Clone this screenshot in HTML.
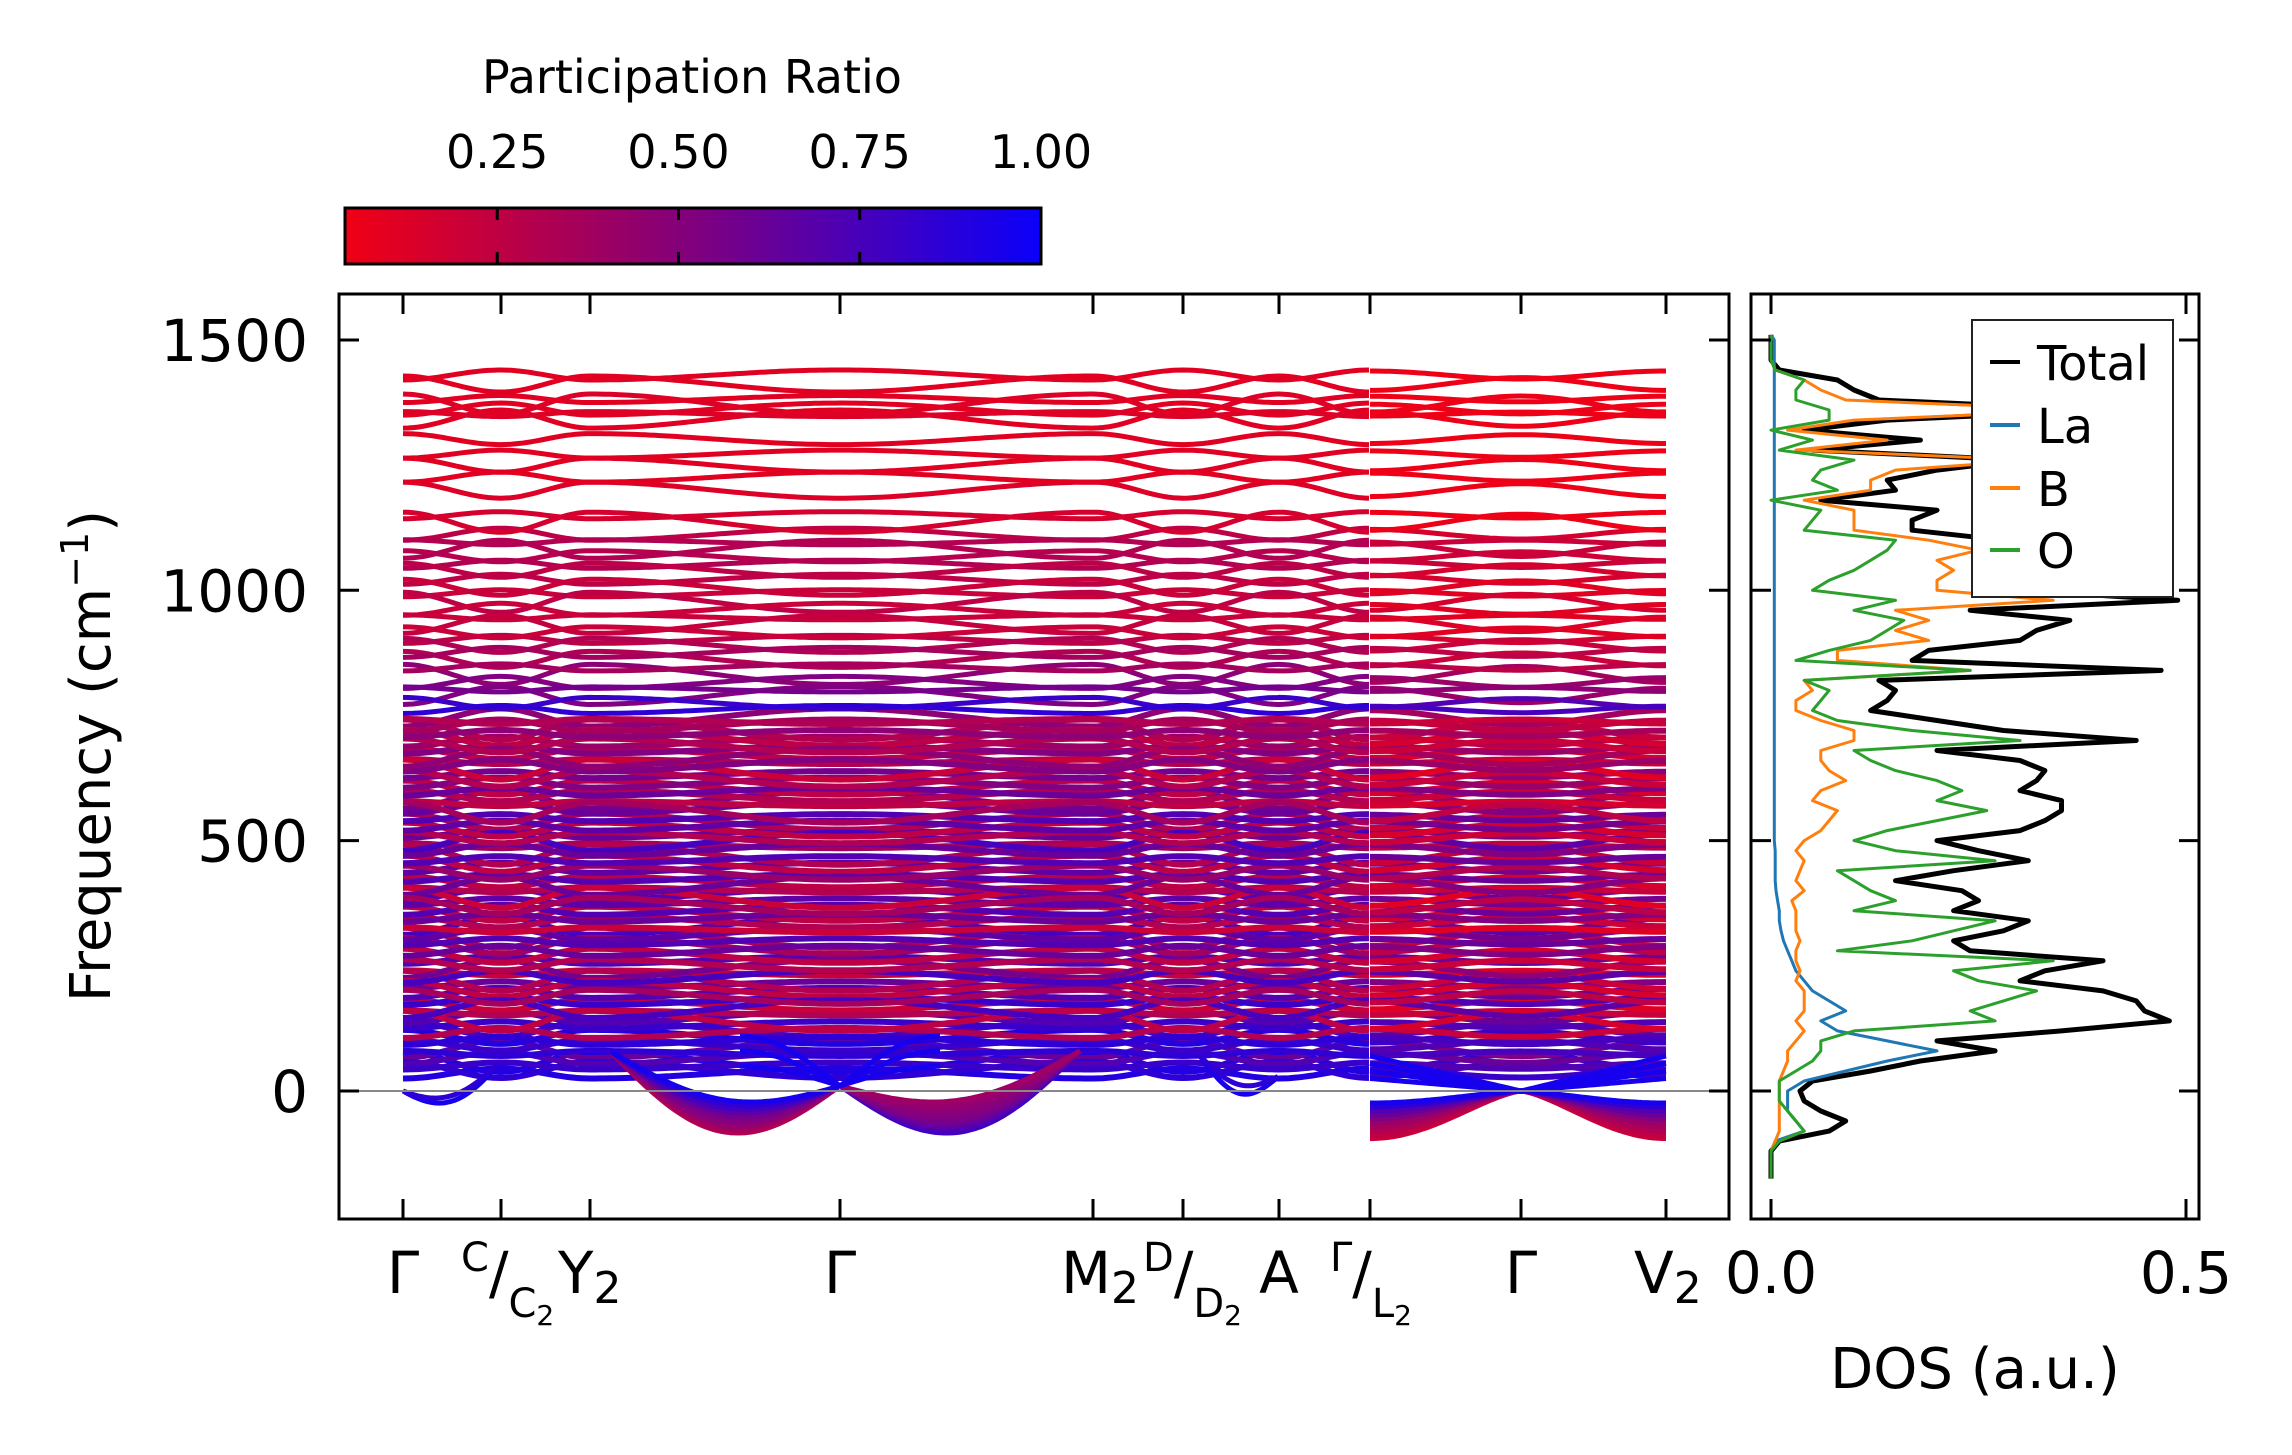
<!DOCTYPE html>
<html><head><meta charset="utf-8">
<style>
html,body{margin:0;padding:0;background:#fff;}
svg{display:block;font-family:"DejaVu Sans","Liberation Sans",sans-serif;}
</style></head>
<body>
<svg id="chart" width="2292" height="1455" viewBox="0 0 2292 1455" xmlns="http://www.w3.org/2000/svg">
<defs>
<linearGradient id="prgrad" x1="0" x2="1" y1="0" y2="0">
<stop offset="0" stop-color="rgb(240,0,20)"/>
<stop offset="0.5" stop-color="rgb(128,0,125)"/>
<stop offset="1" stop-color="rgb(10,0,250)"/>
</linearGradient>
<clipPath id="mainclip"><rect x="339" y="294" width="1390" height="925"/></clipPath>
<clipPath id="dosclip"><rect x="1751" y="294" width="448" height="925"/></clipPath>
</defs>
<g>
<text x="692" y="93" font-size="46" text-anchor="middle">Participation Ratio</text>
<rect x="345" y="208" width="696" height="56" fill="url(#prgrad)" stroke="#000" stroke-width="3"/>
<g id="cbticks"></g>
</g>
<g id="bands" clip-path="url(#mainclip)"></g>
<line x1="339" x2="1729" y1="1091" y2="1091" stroke="#888" stroke-width="2"/>
<rect x="339" y="294" width="1390" height="925" fill="none" stroke="#000" stroke-width="3"/>
<g id="mainticks"></g>
<text transform="translate(110,756) rotate(-90)" font-size="56" text-anchor="middle">Frequency (cm<tspan font-size="38" dy="-22">−1</tspan><tspan dy="22">)</tspan></text>
<g id="dos" clip-path="url(#dosclip)"></g>
<rect x="1751" y="294" width="448" height="925" fill="none" stroke="#000" stroke-width="3"/>
<g id="dosticks"></g>
<text x="1975" y="1388" font-size="56" text-anchor="middle">DOS (a.u.)</text>
<g>
<rect x="1972" y="320" width="201" height="277" fill="#fff" stroke="#222" stroke-width="2"/>
<line x1="1990" x2="2020" y1="362" y2="362" stroke="#000" stroke-width="4"/>
<text x="2037" y="380" font-size="48">Total</text>
<line x1="1990" x2="2020" y1="425" y2="425" stroke="#1f77b4" stroke-width="4"/>
<text x="2037" y="443" font-size="48">La</text>
<line x1="1990" x2="2020" y1="488" y2="488" stroke="#ff7f0e" stroke-width="4"/>
<text x="2037" y="506" font-size="48">B</text>
<line x1="1990" x2="2020" y1="550" y2="550" stroke="#2ca02c" stroke-width="4"/>
<text x="2037" y="568" font-size="48">O</text>
</g>
</svg>
<script>
// ---------- data ----------
const yTicks = [0, 500, 1000, 1500];
const cbTicks = [0.25, 0.50, 0.75, 1.00];
const cbTickLabels = ["0.25", "0.50", "0.75", "1.00"];
const kLabels = ["Γ", "C|C2", "Y2", "Γ", "M2", "D|D2", "A", "Γ|L2", "Γ", "V2"];
const highFreq = [1430,1412,1382,1372,1362,1352,1342,1302,1272,1250,1226,1200,1150,1136,1112,1096,1082,1068,1052,1040,1022,1006,994,976,962,946,932,916,902,890,876,862,846,832,816,802,790,775,762];
const highPR = [0.1,0.1,0.1,0.12,0.1,0.12,0.1,0.1,0.1,0.1,0.1,0.12,0.15,0.15,0.25,0.3,0.3,0.28,0.3,0.25,0.25,0.2,0.2,0.25,0.2,0.2,0.22,0.2,0.25,0.3,0.35,0.3,0.35,0.45,0.5,0.55,0.5,0.8,0.85];
const midFreq = [35,42,50,58,66,75,84,92,100,108,116,124,132,140,148,156,164,172,180,188,196,204,212,220,228,236,244,252,262,270,280,290,298,306,314,322,330,338,346,354,362,370,378,386,394,402,410,418,426,436,446,454,462,472,482,490,498,506,514,522,530,538,546,556,566,574,582,590,598,606,616,624,632,642,650,658,666,674,682,690,698,706,714,722,730,738,746];
const midPR = [0.9,0.85,0.8,0.9,0.7,0.85,0.6,0.8,0.85,0.9,0.3,0.75,0.8,0.25,0.7,0.3,0.75,0.2,0.8,0.35,0.7,0.25,0.6,0.3,0.75,0.2,0.55,0.3,0.7,0.25,0.6,0.35,0.7,0.3,0.65,0.2,0.75,0.3,0.6,0.25,0.7,0.35,0.65,0.2,0.7,0.3,0.6,0.25,0.7,0.4,0.65,0.25,0.7,0.3,0.6,0.35,0.75,0.3,0.6,0.25,0.65,0.3,0.7,0.35,0.6,0.25,0.55,0.3,0.6,0.25,0.5,0.3,0.55,0.2,0.5,0.3,0.45,0.25,0.5,0.3,0.4,0.25,0.45,0.3,0.35,0.3,0.45];
const dispAmp = [10,16,7,20,12,5,18,11,8,14];
const lobeMinL = [-82,-76,-70,-64,-58,-50,-42,-34,-26,-18];
const lobePRL = [0.3,0.35,0.4,0.45,0.5,0.55,0.65,0.75,0.85,0.95];
const lobeMinR = [-95,-88,-80,-72,-64,-56,-48,-40,-32,-24];
const lobePRR = [0.2,0.25,0.3,0.35,0.4,0.5,0.6,0.7,0.85,0.95];
const dosStart = -160, dosStep = 20;
const dosTotal = [0,0,0,0.01,0.07,0.09,0.06,0.04,0.035,0.05,0.12,0.18,0.27,0.2,0.35,0.48,0.45,0.44,0.4,0.3,0.33,0.4,0.24,0.22,0.28,0.31,0.22,0.25,0.23,0.15,0.22,0.31,0.25,0.2,0.3,0.33,0.35,0.35,0.3,0.32,0.33,0.3,0.2,0.44,0.28,0.2,0.12,0.14,0.15,0.13,0.47,0.17,0.19,0.3,0.32,0.36,0.24,0.49,0.3,0.3,0.3,0.32,0.42,0.28,0.17,0.17,0.2,0.06,0.15,0.14,0.2,0.3,0.05,0.18,0.04,0.14,0.4,0.13,0.1,0.08,0.01,0,0,0];
const dosO = [0,0,0,0.01,0.04,0.03,0.02,0.01,0.01,0.01,0.03,0.05,0.06,0.06,0.1,0.27,0.24,0.28,0.32,0.25,0.22,0.34,0.08,0.17,0.22,0.27,0.1,0.15,0.12,0.1,0.08,0.27,0.15,0.1,0.14,0.2,0.26,0.2,0.23,0.2,0.15,0.12,0.1,0.3,0.17,0.08,0.05,0.06,0.07,0.04,0.24,0.03,0.07,0.12,0.14,0.16,0.1,0.15,0.05,0.07,0.1,0.12,0.14,0.15,0.04,0.05,0.06,0,0.08,0.05,0.06,0.1,0.01,0.05,0,0.07,0.07,0.03,0.03,0.04,0.005,0,0,0];
const dosB = [0,0,0,0.005,0.01,0.01,0.01,0.01,0.01,0.01,0.015,0.02,0.02,0.03,0.04,0.03,0.04,0.04,0.04,0.03,0.035,0.03,0.03,0.035,0.03,0.03,0.03,0.025,0.04,0.03,0.035,0.04,0.03,0.04,0.06,0.07,0.08,0.05,0.06,0.09,0.07,0.06,0.06,0.1,0.1,0.06,0.03,0.03,0.05,0.04,0.24,0.08,0.08,0.19,0.15,0.19,0.15,0.34,0.2,0.2,0.22,0.2,0.25,0.19,0.1,0.1,0.1,0.04,0.12,0.12,0.15,0.32,0.03,0.14,0.02,0.1,0.38,0.09,0.06,0.04,0.005,0,0,0];
const dosLa = [0,0,0,0.005,0.04,0.03,0.02,0.02,0.02,0.04,0.09,0.14,0.2,0.14,0.08,0.06,0.09,0.07,0.05,0.04,0.03,0.025,0.02,0.015,0.012,0.01,0.01,0.008,0.006,0.005,0.005,0.005,0.005,0.004,0.004,0.004,0.004,0.004,0.004,0.004,0.004,0.004,0.004,0.004,0.004,0.004,0.004,0.004,0.004,0.004,0.004,0.004,0.004,0.004,0.004,0.004,0.004,0.004,0.004,0.004,0.004,0.004,0.004,0.004,0.004,0.004,0.004,0.004,0.004,0.004,0.004,0.004,0.004,0.004,0.004,0.004,0.004,0.004,0.004,0.004,0.004,0.004,0.004,0.004];

const NS = "http://www.w3.org/2000/svg";
const kX = [403,501,590,840,1093,1183,1279,1370,1521,1666];
function yF(f){ return 1091 - f*0.5007; }
function xDos(v){ return 1771 + v*830; }
function xCb(p){ return 345 + (p-0.04)/(0.96)*696; }
function prColor(p){
  const t = Math.max(0, Math.min(1,(p-0.04)/0.96));
  const r = Math.round(240 + (10-240)*t), b = Math.round(20 + (250-20)*t);
  return `rgb(${r},0,${b})`;
}
function mk(tag, attrs, parent){
  const e = document.createElementNS(NS, tag);
  for (const k in attrs) e.setAttribute(k, attrs[k]);
  parent.appendChild(e); return e;
}

const cbg = document.getElementById('cbticks');
cbTicks.forEach((v,i)=>{
  const x = xCb(v);
  if (i < cbTicks.length-1){
    const l1 = mk('line',{x1:x,x2:x,y1:208,y2:220,stroke:'#000','stroke-width':3},cbg);
    
    
    const l2 = mk('line',{x1:x,x2:x,y1:252,y2:264,stroke:'#000','stroke-width':3},cbg);
    
    
  }
  const t = mk('text',{x:x,y:168,'font-size':46,'text-anchor':'middle'},cbg);
  t.textContent = cbTickLabels[i];
  
  
});

const mt = document.getElementById('mainticks');
yTicks.forEach(v=>{
  const y = yF(v);
  const a = mk('line',{x1:339,x2:359,y1:y,y2:y,stroke:'#000','stroke-width':3},mt);
  
  
  const b = mk('line',{x1:1709,x2:1729,y1:y,y2:y,stroke:'#000','stroke-width':3},mt);
  
  
  const t = mk('text',{x:308,y:y+21,'font-size':58,'text-anchor':'end'},mt);
  t.textContent = String(v);
  
  
});
kX.forEach(x=>{
  const a = mk('line',{x1:x,x2:x,y1:1199,y2:1219,stroke:'#000','stroke-width':3},mt);
  
  
  const b = mk('line',{x1:x,x2:x,y1:294,y2:314,stroke:'#000','stroke-width':3},mt);
  
  
});
kLabels.forEach((lab,i)=>{
  const x = kX[i];
  const g = mk('text',{'font-size':58,y:1293},mt);
  
  
  if (lab.indexOf('|')>=0){
    const [a,b] = lab.split('|');
    g.setAttribute('x', x-40);
    const s1 = mk('tspan',{'font-size':40,dy:-22},g); s1.textContent = a;
    const s2 = mk('tspan',{'font-size':58,dy:22},g); s2.textContent = '/';
    const s3 = mk('tspan',{'font-size':40,dy:24},g); s3.textContent = b[0];
    const s4 = mk('tspan',{'font-size':28,dy:8},g); s4.textContent = b.slice(1);
  } else if (lab.length===2){
    g.setAttribute('x', x-32);
    const s1 = mk('tspan',{},g); s1.textContent = lab[0];
    const s2 = mk('tspan',{'font-size':44,dy:10},g); s2.textContent = lab[1];
  } else {
    g.setAttribute('x', x); g.setAttribute('text-anchor','middle');
    g.textContent = lab;
  }
});

const bg = document.getElementById('bands');
function addPath(pts, pr, w, name){
  let d = '';
  pts.forEach((p,i)=>{ d += (i?'L':'M') + p[0].toFixed(1) + ' ' + yF(p[1]).toFixed(1); });
  const e = mk('path',{d:d,fill:'none',stroke:prColor(pr),'stroke-width':w,'stroke-linejoin':'round'},bg);
  
  
}
function bandPts(f0, amp, sgn, xs){
  const pts = [];
  for (let j=0;j<xs.length-1;j++){
    const x0 = xs[j], x1 = xs[j+1];
    for (let x=x0; x<=x1; x+=5){
      const t = (x-x0)/(x1-x0);
      pts.push([x, f0 + amp*sgn*(j%2?-1:1)*Math.cos(Math.PI*t)]);
    }
  }
  return pts;
}
const leftX = kX.slice(0,8), rightX = kX.slice(7);
function drawFlat(freqs, prs, w){
  const order = freqs.map((_,i)=>i).sort((a,b)=>((a*37)%11)-((b*37)%11));
  order.forEach(i=>{
    const a = dispAmp[i%dispAmp.length], s = (i%2)?1:-1;
    addPath(bandPts(freqs[i], a, s, leftX), prs[i], w, 'phonon-band');
    addPath(bandPts(freqs[i], a*0.8, -s, rightX), Math.max(0.05, prs[i]-0.1), w, 'phonon-band');
  });
}
drawFlat(midFreq, midPR, 6);
drawFlat(highFreq, highPR, 5);

lobeMinL.forEach((m,i)=>{
  const p1=[], p2=[];
  for (let x=610; x<=840; x+=4){ const t=(x-610)/230; p1.push([x, 80*(1-t) + 10*t + (m-45)*Math.sin(Math.PI*t)]); }
  for (let x=840; x<=1080; x+=4){ const t=(x-840)/240; p2.push([x, 10*(1-t) + 80*t + (m-45)*Math.sin(Math.PI*t)]); }
  addPath(p1, lobePRL[i], 5, 'soft-mode-band');
  addPath(p2, lobePRL[lobePRL.length-1-i]*0.6+0.2, 5, 'soft-mode-band');
});
[110,80,50].forEach(top=>{
  const p=[];
  for (let x=740; x<=940; x+=4){ const t=Math.abs(x-840)/100; p.push([x, 10+(top-10)*Math.sin(Math.PI/2*t)]); }
  addPath(p, 0.95, 5, 'acoustic-band');
});
[[0.95,-22],[0.85,-15]].forEach(v=>{
  const p=[];
  for (let x=403; x<=501; x+=3){ const t=(x-403)/98; p.push([x, 60*t*t + v[1]*Math.sin(Math.PI*t)*1.6]); }
  addPath(p, v[0], 5, 'acoustic-band');
  const q=[];
  for (let x=1200; x<=1279; x+=3){ const t=(x-1200)/79; q.push([x, 70*(1-t)+30*t + v[1]*Math.sin(Math.PI*t)*2.5]); }
  addPath(q, v[0], 5, 'acoustic-band');
});
lobeMinR.forEach((m,i)=>{
  const p=[];
  for (let x=1370; x<=1666; x+=4){
    const t = x<=1521 ? (1521-x)/151 : (x-1521)/145;
    p.push([x, m*Math.pow(Math.sin(Math.PI/2*t),1.4)]);
  }
  addPath(p, lobePRR[i], 5, 'soft-mode-band');
});
[70,55,40,25].forEach(top=>{
  const p=[];
  for (let x=1370; x<=1666; x+=4){
    const t = x<=1521 ? (1521-x)/151 : (x-1521)/145;
    p.push([x, top*t]);
  }
  addPath(p, 0.95, 5, 'acoustic-band');
});

const dg = document.getElementById('dos');
function dosLine(arr, color, w, name){
  let d='M'+xDos(0)+' '+yF(-175);
  arr.forEach((v,i)=>{ const f = dosStart + i*dosStep; d += 'L' + xDos(v).toFixed(1) + ' ' + yF(f).toFixed(1); });
  d += 'L' + xDos(0).toFixed(1) + ' ' + yF(1510).toFixed(1);
  const e = mk('path',{d:d,fill:'none',stroke:color,'stroke-width':w,'stroke-linejoin':'round'},dg);
  
  
}
dosLine(dosTotal,'#000',5,'dos-total-line');
dosLine(dosLa,'#1f77b4',3,'dos-la-line');
dosLine(dosB,'#ff7f0e',3,'dos-b-line');
dosLine(dosO,'#2ca02c',3,'dos-o-line');

const dt = document.getElementById('dosticks');
yTicks.forEach(v=>{
  const y = yF(v);
  const a = mk('line',{x1:1751,x2:1771,y1:y,y2:y,stroke:'#000','stroke-width':3},dt);
  
  
  const b = mk('line',{x1:2179,x2:2199,y1:y,y2:y,stroke:'#000','stroke-width':3},dt);
  
  
});
[0,0.5].forEach(v=>{
  const x = xDos(v);
  const a = mk('line',{x1:x,x2:x,y1:1199,y2:1219,stroke:'#000','stroke-width':3},dt);
  
  
  const b = mk('line',{x1:x,x2:x,y1:294,y2:314,stroke:'#000','stroke-width':3},dt);
  
  
  const t = mk('text',{x:x,y:1293,'font-size':58,'text-anchor':'middle'},dt);
  t.textContent = v.toFixed(1);
  
  
});
</script>
</body></html>
